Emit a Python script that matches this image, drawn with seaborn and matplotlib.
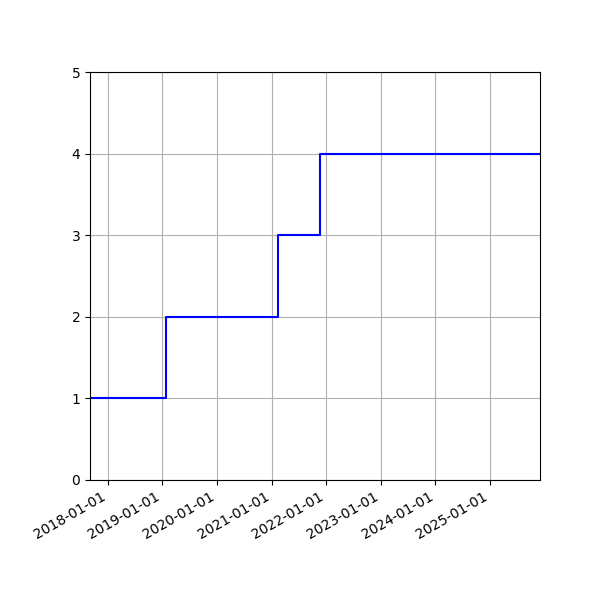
import pandas as pd
import seaborn as sns
import matplotlib
matplotlib.use('Agg')
import matplotlib.pyplot as plt
import matplotlib.dates as mdates

dates = pd.to_datetime(['2017-09-05', '2019-01-24', '2021-02-10', '2021-11-24', '2025-12-01'])
values = [1, 2, 3, 4, 4]

df = pd.DataFrame({'date': dates, 'value': values})

fig, ax = plt.subplots(figsize=(6, 6), dpi=100)
sns.lineplot(data=df, x='date', y='value', color='blue', drawstyle='steps-post', ax=ax)
ax.set_xlim(dates[0], dates[-1])
ax.set_ylim(0, 5)
ax.xaxis.set_major_locator(mdates.YearLocator())
ax.xaxis.set_major_formatter(mdates.DateFormatter('%Y-%m-%d'))
ax.set_xlabel('')
ax.set_ylabel('')
ax.grid(True)
fig.autofmt_xdate()
fig.subplots_adjust(left=0.15, right=0.9, top=0.88, bottom=0.2)
fig.savefig('out.png')
